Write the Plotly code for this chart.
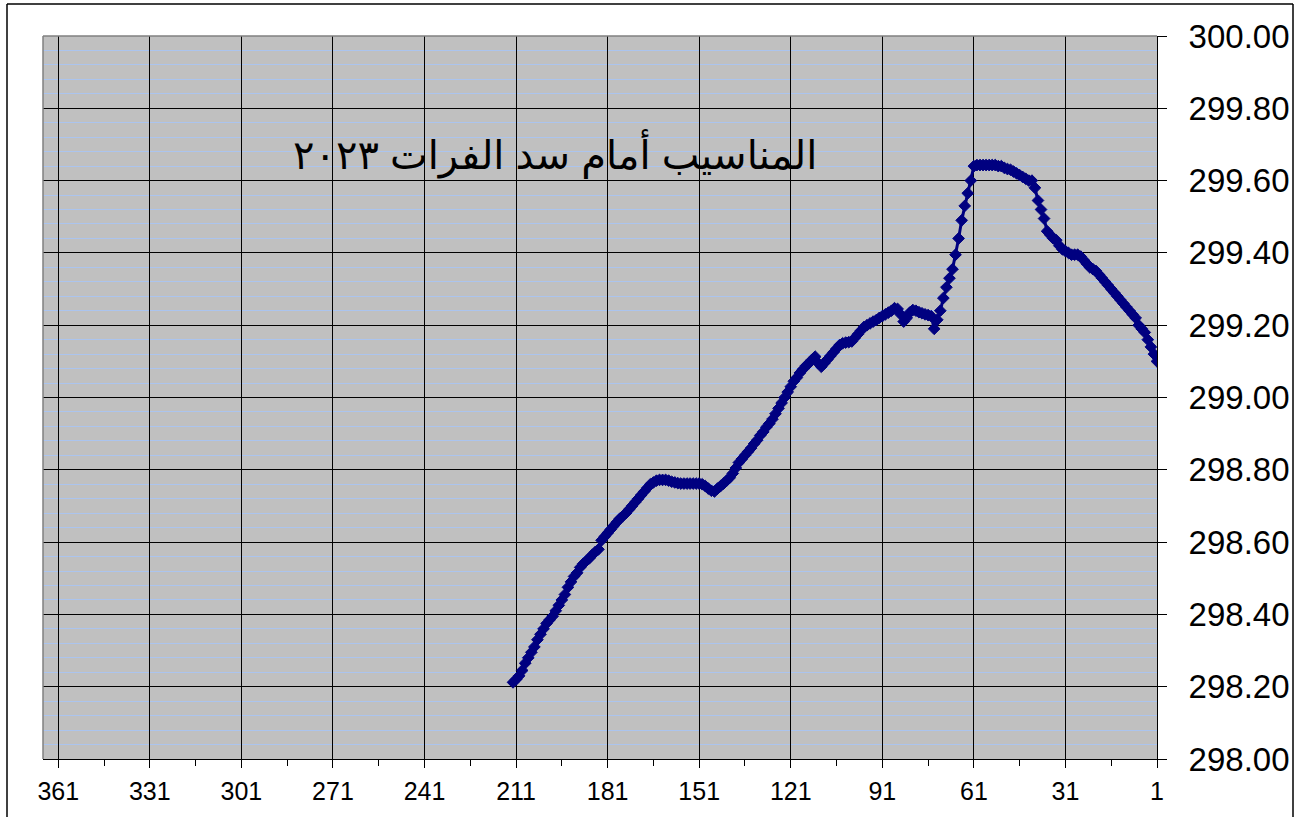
import plotly.graph_objects as go

# Day index (counted backwards on the reversed x axis)
days = list(range(1, 213))

# Water level in front of the Euphrates Dam (m), day 1 .. day 212
levels = [
    299.10, 299.12, 299.14, 299.16, 299.18, 299.19, 299.20, 299.22, 299.23, 299.24,
    299.25, 299.26, 299.27, 299.28, 299.29, 299.30, 299.31, 299.32, 299.33, 299.34,
    299.35, 299.355, 299.36, 299.37, 299.38, 299.39, 299.395, 299.395, 299.395, 299.40,
    299.405, 299.41, 299.42, 299.435, 299.44, 299.45, 299.46, 299.495, 299.52, 299.545,
    299.58, 299.60, 299.60, 299.605, 299.61, 299.615, 299.62, 299.625, 299.63, 299.632,
    299.635, 299.64, 299.64, 299.643, 299.643, 299.643, 299.643, 299.643, 299.643, 299.643,
    299.64, 299.60, 299.565, 299.53, 299.49, 299.44, 299.395, 299.355, 299.33, 299.305,
    299.275, 299.24, 299.215, 299.19, 299.225, 299.228, 299.23, 299.233, 299.236, 299.24,
    299.242, 299.235, 299.22, 299.21, 299.23, 299.245, 299.247, 299.24, 299.235, 299.23,
    299.225, 299.22, 299.214, 299.21, 299.205, 299.20, 299.195, 299.185, 299.175, 299.165,
    299.155, 299.153, 299.152, 299.15, 299.145, 299.135, 299.125, 299.115, 299.105, 299.095,
    299.085, 299.095, 299.113, 299.105, 299.095, 299.088, 299.078, 299.068, 299.055, 299.045,
    299.03, 299.015, 299.00, 298.985, 298.97, 298.955, 298.94, 298.928, 298.918, 298.905,
    298.895, 298.882, 298.872, 298.86, 298.85, 298.84, 298.83, 298.82, 298.805, 298.79,
    298.778, 298.77, 298.762, 298.755, 298.748, 298.74, 298.742, 298.748, 298.755, 298.76,
    298.762, 298.762, 298.762, 298.762, 298.762, 298.762, 298.762, 298.763, 298.765, 298.767,
    298.77, 298.772, 298.772, 298.772, 298.77, 298.765, 298.76, 298.75, 298.74, 298.73,
    298.72, 298.71, 298.70, 298.69, 298.68, 298.672, 298.665, 298.655, 298.645, 298.635,
    298.625, 298.615, 298.605, 298.58, 298.573, 298.565, 298.555, 298.548, 298.54, 298.53,
    298.515, 298.505, 298.49, 298.475, 298.455, 298.44, 298.425, 298.41, 298.395, 298.385,
    298.375, 298.36, 298.345, 298.33, 298.31, 298.295, 298.28, 298.265, 298.245, 298.23,
    298.22, 298.212,
]

x_ticks = [361, 331, 301, 271, 241, 211, 181, 151, 121, 91, 61, 31, 1]
x_minor = [346, 316, 286, 256, 226, 196, 166, 136, 106, 76, 46, 16]
title_text = "المناسيب أمام سد الفرات ٢٠٢٣"

W, H = 1307, 817
PL, PT, PR, PB = 43, 36, 1157, 759          # plot area in screen pixels
pw, ph = PR - PL, PB - PT
L, T, R, B = PL, PT, W - PR, H - PB


def px(x):
    return (x - PL) / pw


def py(y):
    return (PB - y) / ph


fig = go.Figure()
fig.add_trace(go.Scatter(
    x=days, y=levels, mode="lines+markers",
    line=dict(color="#000080", width=3),
    marker=dict(symbol="diamond", size=9, color="#000080",
                line=dict(color="#000080", width=1)),
    showlegend=False, hoverinfo="x+y",
))

frame = dict(color="black", width=1.5)
fig.update_layout(
    width=W, height=H,
    margin=dict(l=L, r=R, t=T, b=B, pad=0, autoexpand=False),
    paper_bgcolor="white",
    plot_bgcolor="#C0C0C0",
    font=dict(family="Liberation Sans, Arial, sans-serif", color="black"),
    xaxis=dict(
        range=[366, 1], tickmode="array", tickvals=x_ticks,
        ticktext=[str(v) for v in x_ticks], automargin=False,
        showgrid=True, gridcolor="black", gridwidth=1,
        zeroline=False, showline=True, linecolor="black", linewidth=1,
        ticks="outside", ticklen=8, tickcolor="black", tickwidth=1,
        tickfont=dict(size=25), ticklabelstandoff=2,
        minor=dict(tickmode="array", tickvals=x_minor,
                   ticks="outside", ticklen=6, tickcolor="black", showgrid=False),
    ),
    yaxis=dict(
        side="right", range=[298, 300], tickmode="linear", tick0=298, dtick=0.2,
        tickformat=".2f", automargin=False,
        showgrid=True, gridcolor="black", gridwidth=1,
        zeroline=False, showline=True, linecolor="black", linewidth=1,
        ticks="outside", ticklen=9, tickcolor="black", tickwidth=1,
        tickfont=dict(size=33), ticklabelstandoff=15,
        minor=dict(tickmode="linear", tick0=298, dtick=0.04, showgrid=True,
                   gridcolor="#ABC4EE", gridwidth=1, ticks=""),
    ),
    annotations=[dict(
        text=title_text, xref="paper", yref="paper",
        x=px(555), y=py(154), xanchor="center", yanchor="middle",
        showarrow=False, font=dict(size=40, color="black",
                                   family="Arial, DejaVu Sans, sans-serif"),
    )],
    shapes=[
        # outer chart frame (left, top, right; bottom lies below the visible page)
        dict(type="line", xref="paper", yref="paper",
             x0=px(7), x1=px(7), y0=py(H), y1=py(4), line=frame),
        dict(type="line", xref="paper", yref="paper",
             x0=px(7), x1=px(1293), y0=py(4), y1=py(4), line=frame),
        dict(type="line", xref="paper", yref="paper",
             x0=px(1293), x1=px(1293), y0=py(H), y1=py(4), line=frame),
        # gray plot-area border top and left
        dict(type="line", xref="paper", yref="paper", x0=0, x1=1, y0=1, y1=1,
             line=dict(color="#808080", width=1.5)),
        dict(type="line", xref="paper", yref="paper", x0=0, x1=0, y0=0, y1=1,
             line=dict(color="#808080", width=1.5)),
    ],
)

fig.write_html(
    "out.html",
    config={"displayModeBar": False},
    post_script="document.body.style.margin='0';document.body.style.overflow='hidden';",
)
